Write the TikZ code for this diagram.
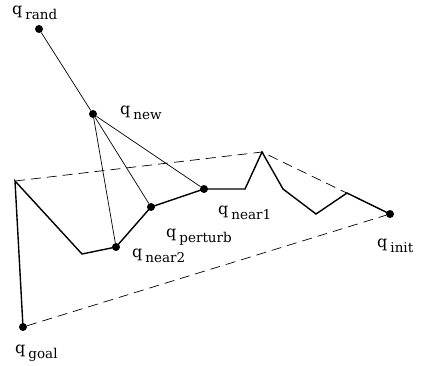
\documentclass[tikz,border=0pt]{standalone}
\usepackage{fontspec}
\setmainfont{DejaVu Serif}
\usetikzlibrary{positioning}
\newcommand{\qsub}[1]{\fontsize{16}{16}\selectfont q\hspace{3pt}\raisebox{-5pt}{\fontsize{13.5}{13.5}\selectfont #1}}

\begin{document}
\begin{tikzpicture}[
  x=1pt, y=-1pt,
  dot/.style={circle, fill, inner sep=0pt, minimum size=8pt},
  lbl/.style={anchor=base west, inner sep=0pt},
  tree/.style={line width=1.4pt, line join=miter},
  ray/.style={line width=0.7pt},
  hull/.style={line width=0.7pt, dash pattern=on 10pt off 6pt}
]
\useasboundingbox (0,0) rectangle (422,365);

% configurations
\node[dot] (rand) at (39,29) {};
\node[dot] (new) at (93,114) {};
\node[dot] (near2) at (116,247) {};
\node[dot] (perturb) at (151,207) {};
\node[dot] (near1) at (204,189) {};
\node[dot] (init) at (390,214) {};
\node[dot] (goal) at (23,327) {};

% bends of the tree
\coordinate (c1) at (15,181);
\coordinate (c2) at (82,254);
\coordinate (c3) at (245,189);
\coordinate (c4) at (262,152);
\coordinate (c5) at (283,189);
\coordinate (c6) at (316,214);
\coordinate (c7) at (347,193);

% labels
\node[lbl] (lrand) at (12,14) {\qsub{rand}};
\node[lbl] (lnew) at (120,114) {\qsub{new}};
\node[lbl] (lnear1) at (218,214) {\qsub{near1}};
\node[lbl] (lperturb) at (166,237) {\qsub{perturb}};
\node[lbl] (lnear2) at (132,257) {\qsub{near2}};
\node[lbl] (linit) at (377,247) {\qsub{init}};
\node[lbl] (lgoal) at (15,353) {\qsub{goal}};

% hull
\draw[hull] (c1) -- (c4) -- (init);
\draw[hull] (goal) -- (init);

% tree
\draw[tree] (goal.center) -- (c1) -- (c2) -- (near2.center) -- (perturb.center)
  -- (near1.center) -- (c3) -- (c4) -- (c5) -- (c6) -- (c7) -- (init.center);

% extension
\draw[ray] (rand) -- (new);
\draw[ray] (new) -- (near2);
\draw[ray] (new) -- (perturb);
\draw[ray] (new) -- (near1);
\end{tikzpicture}
\end{document}
